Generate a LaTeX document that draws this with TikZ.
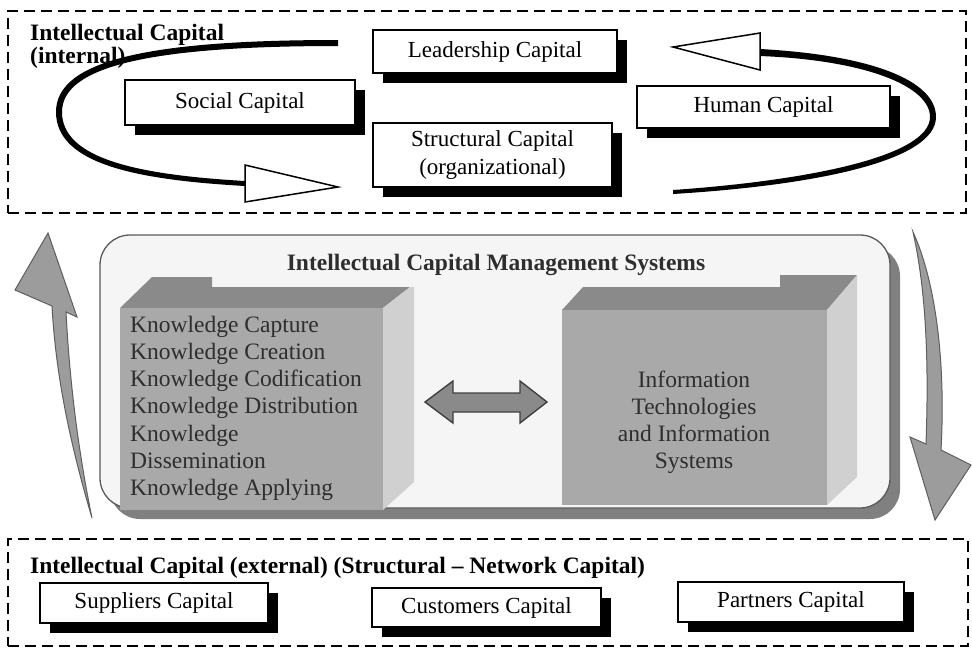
\documentclass[tikz,border=0pt]{standalone}
\usepackage{fontspec}
\setmainfont{Liberation Serif}
\usetikzlibrary{shadows}
\definecolor{frontgray}{HTML}{A9A9A9}
\definecolor{topgray}{HTML}{8A8A8A}
\definecolor{sidegray}{HTML}{D0D0D0}
\definecolor{panelfill}{HTML}{F5F5F5}
\definecolor{paneledge}{HTML}{5A5A5A}
\definecolor{panelshadow}{HTML}{808080}
\definecolor{arrowgray}{HTML}{9C9C9C}
\definecolor{arrowedge}{HTML}{5E5E5E}
\definecolor{darktext}{HTML}{2E2E2E}
\begin{document}
\begin{tikzpicture}[x=1pt,y=-1pt,
  capbox/.style={draw=black, line width=1.7pt, fill=white, inner sep=0pt, align=center,
    font=\fontsize{23}{28}\selectfont,
    drop shadow={shadow xshift=10pt, shadow yshift=-10pt, fill=black, opacity=1}},
  dashbox/.style={draw=black, line width=1.8pt, dash pattern=on 11pt off 6pt, inner sep=0pt},
  headtext/.style={font=\bfseries\fontsize{23.5}{24}\selectfont, inner sep=0pt},
  cubetext/.style={font=\fontsize{23.5}{27}\selectfont, text=darktext, inner sep=0pt},
  loopline/.style={fill=black},
  hollowhead/.style={draw=black, line width=1.5pt, fill=white, line join=miter},
  bigarrow/.style={fill=arrowgray, draw=arrowedge, line width=1pt, line join=miter},
  dblarrow/.style={fill=topgray, draw=black!75, line width=1.4pt, line join=miter},
  panel/.style={draw=paneledge, line width=1.3pt, fill=panelfill, rounded corners=30pt, inner sep=0pt,
    drop shadow={shadow xshift=10pt, shadow yshift=-11pt, fill=panelshadow, opacity=1}}
]
\useasboundingbox (0,0) rectangle (972,649);
\fill[white] (0,0) rectangle (972,649);

% ---------- top: internal intellectual capital ----------
\node[dashbox, minimum width=958pt, minimum height=202pt] (internal) at (487,112) {};
\node[headtext, anchor=base west] (intitle1) at (30,40) {Intellectual Capital};
\node[headtext, anchor=base west] (intitle2) at (30,63) {(internal)};

% left loop (tapered stroke) with hollow head
\fill[loopline] (338,40) .. controls (150,40) and (56,60) .. (56,112)
  .. controls (56,165) and (140,180) .. (245,186)
  -- (245,181) .. controls (142,175) and (62,160) .. (62,112)
  .. controls (62,66) and (152,46) .. (338,46) -- cycle;
\draw[hollowhead] (245,165) -- (338,187) -- (245,202) -- cycle;

% right loop with hollow head
\fill[loopline] (760,49) .. controls (870,55) and (936,80) .. (936,117)
  .. controls (936,160) and (820,185) .. (673,194)
  -- (673,190) .. controls (815,180) and (930,155) .. (930,117)
  .. controls (930,86) and (865,60) .. (760,56) -- cycle;
\draw[hollowhead] (760,33) -- (673,47) -- (760,70) -- cycle;

\node[capbox, minimum width=244pt, minimum height=43pt] (leader) at (495,51.5) {Leadership Capital};
\node[capbox, minimum width=230pt, minimum height=45pt] (social) at (240,102.5) {Social Capital};
\node[capbox, minimum width=239pt, minimum height=64pt] (struct) at (492.5,155) {Structural Capital\\(organizational)};
\node[capbox, minimum width=253pt, minimum height=42pt] (human) at (763.5,107) {Human Capital};

% ---------- middle: management systems ----------
\node[panel, minimum width=790pt, minimum height=273pt] (icms) at (495,371.5) {};
\node[headtext, text=darktext, anchor=base] (icmstitle) at (496,270) {Intellectual Capital Management Systems};

% left cube
\coordinate (lcube) at (120,308);
\fill[topgray] (120,308) -- (152,277) -- (212,277) -- (212,287) -- (410,287) -- (383,308) -- cycle;
\fill[sidegray] (383,308) -- (410,287) -- (414,287) -- (414,482) -- (383,510) -- cycle;
\fill[frontgray] (120,308) rectangle (383,510);
\foreach \t [count=\i] in {Knowledge Capture, Knowledge Creation, Knowledge Codification,
    Knowledge Distribution, Knowledge, Dissemination, Knowledge Applying}
  \node[cubetext, anchor=base west] (k\i) at (130,{332+27.3*(\i-1)}) {\t};

% right cube
\coordinate (rcube) at (562,310);
\fill[topgray] (562,310) -- (583,287) -- (780,287) -- (780,275) -- (857,275) -- (827,310) -- cycle;
\fill[sidegray] (827,310) -- (857,275) -- (857,477) -- (827,505) -- cycle;
\fill[frontgray] (562,310) rectangle (827,505);
\foreach \t [count=\i] in {Information, Technologies, and Information, Systems}
  \node[cubetext, anchor=base] (it\i) at (694,{387+27*(\i-1)}) {\t};

% double arrow between the cubes
\draw[dblarrow] (425,402) -- (453,381) -- (453,393) -- (520,393) -- (520,381) -- (547,402)
  -- (520,423) -- (520,412) -- (453,412) -- (453,423) -- cycle;

% big curved arrows at the sides
\draw[bigarrow] (92,518) .. controls (72,450) and (56,380) .. (52,306) -- (15,290) -- (48,233)
  -- (77,317) -- (66,312) .. controls (70,390) and (80,460) .. (92,518) -- cycle;
\draw[bigarrow] (913,232) .. controls (935,280) and (946,360) .. (941,450) -- (971,465)
  -- (935,520) -- (910,437) -- (926,444) .. controls (929,360) and (926,290) .. (913,232) -- cycle;

% ---------- bottom: external intellectual capital ----------
\node[dashbox, minimum width=960pt, minimum height=107pt] (external) at (488,592.5) {};
\node[headtext, anchor=base west] (extitle) at (30,573) {Intellectual Capital (external) (Structural -- Network Capital)};
\node[capbox, minimum width=228pt, minimum height=40pt] (suppliers) at (154,603) {Suppliers Capital};
\node[capbox, minimum width=229pt, minimum height=39pt] (customers) at (486.5,607.5) {Customers Capital};
\node[capbox, minimum width=226pt, minimum height=40pt] (partners) at (791,602) {Partners Capital};
\end{tikzpicture}
\end{document}
